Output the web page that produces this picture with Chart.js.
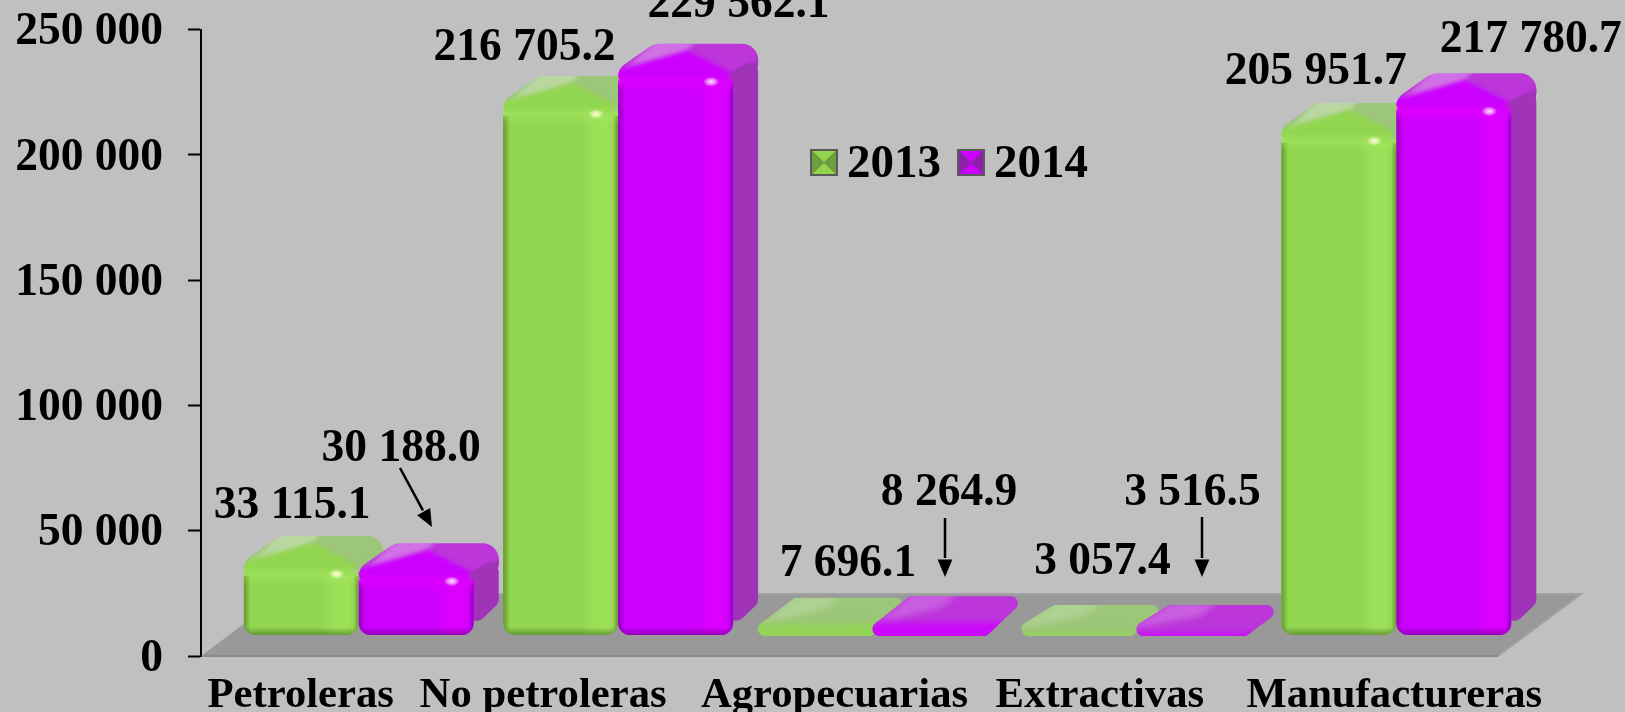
<!DOCTYPE html>
<html>
<head>
<meta charset="utf-8">
<title>Exportaciones</title>
<script src="https://cdn.jsdelivr.net/npm/chart.js@4/dist/chart.umd.js"></script>
<style>
    html, body { margin: 0; padding: 0; background: #c0c0c0; overflow: hidden; }
    #wrap { width: 1625px; height: 712px; }
</style>
</head>
<body>
<div id="wrap"><canvas id="exportChart"></canvas></div>
<script>
const categories = ['Petroleras', 'No petroleras', 'Agropecuarias', 'Extractivas', 'Manufactureras'];
const years = ['2013', '2014'];
const values2013 = [33115.1, 216705.2, 7696.1, 3057.4, 205951.7];
const values2014 = [30188.0, 229562.1, 8264.9, 3516.5, 217780.7];
const yTicks = [0, 50000, 100000, 150000, 200000, 250000];

// Hand placed bits, the labels sit wherever they fit in the original
const labelShift = [-30, -47, -15, -9, 26];
const valueNudge = [
    [[-9, -55], [-36, -53], [28, -61], [23, -74], [-23, -56]],
    [[-15, -119], [63, -64], [14, -130], [-2, -142], [77, -58]]
];

const FONT = '"Liberation Serif", "Times New Roman", serif';
const palette = [
    {
        front: '#92d650', side: '#9cc47a', top: '#9cc678', swatchSide: '#6f9e3e', spot: '255,255,210',
        edge: 'rgba(70,110,30,0.6)', edgeOff: 'rgba(70,110,30,0)',
        shine: 'rgba(170,240,100,0.4)', shineOff: 'rgba(170,240,100,0)'
    },
    {
        front: '#cc00ff', side: '#a033b8', top: '#bc36da', swatchSide: '#8f1fab', spot: '255,225,255',
        edge: 'rgba(110,0,140,0.6)', edgeOff: 'rgba(110,0,140,0)',
        shine: 'rgba(225,0,255,0.7)', shineOff: 'rgba(225,0,255,0)'
    }
];

// Depth of the fake 3D box
const DEPTH_X = 28;
const BASE_Y = 635;
const FLOOR_DX = 83;
const FLOOR_DY = 62;

function spaced(value, decimals) {
    const parts = value.toFixed(decimals).split('.');
    parts[0] = parts[0].replace(/\B(?=(\d{3})+(?!\d))/g, ' ');
    return parts.join('.');
}

// Polygon with rounded corners
function roundedPoly(ctx, pts, r) {
    ctx.beginPath();
    const n = pts.length;
    ctx.moveTo((pts[n - 1][0] + pts[0][0]) / 2, (pts[n - 1][1] + pts[0][1]) / 2);
    pts.forEach((p, i) => {
        const next = pts[(i + 1) % n];
        ctx.arcTo(p[0], p[1], next[0], next[1], r);
    });
    ctx.closePath();
}

function fillPoly(ctx, pts, fill) {
    ctx.fillStyle = fill;
    ctx.beginPath();
    pts.forEach((p, i) => (i ? ctx.lineTo(p[0], p[1]) : ctx.moveTo(p[0], p[1])));
    ctx.closePath();
    ctx.fill();
}

function drawArrow(ctx, x1, y1, x2, y2) {
    const angle = Math.atan2(y2 - y1, x2 - x1);
    const head = 19;
    ctx.strokeStyle = '#000';
    ctx.lineWidth = 2.5;
    ctx.beginPath();
    ctx.moveTo(x1, y1);
    ctx.lineTo(x2 - Math.cos(angle) * head, y2 - Math.sin(angle) * head);
    ctx.stroke();
    fillPoly(ctx, [
        [x2, y2],
        [x2 - Math.cos(angle - 0.4) * head, y2 - Math.sin(angle - 0.4) * head],
        [x2 - Math.cos(angle + 0.4) * head, y2 - Math.sin(angle + 0.4) * head]
    ], '#000');
}

function drawSwatch(ctx, x, y, w, h, col) {
    ctx.fillStyle = '#5a5a5a';
    ctx.fillRect(x, y, w, h);
    const ix = x + 2, iy = y + 2, iw = w - 4, ih = h - 4;
    const c = [ix + iw / 2, iy + ih / 2];
    fillPoly(ctx, [[ix, iy], [ix + iw, iy], c], col.front);
    fillPoly(ctx, [[ix, iy + ih], [ix + iw, iy + ih], c], col.front);
    fillPoly(ctx, [[ix, iy], [ix, iy + ih], c], col.swatchSide);
    fillPoly(ctx, [[ix + iw, iy], [ix + iw, iy + ih], c], col.swatchSide);
}

// Side and top faces of a tall bar, front face comes from the library
function drawTallBack(ctx, el, col) {
    const L = el.x - el.width / 2;
    const R = el.x + el.width / 2;
    const W = el.width;
    const F = el.y;
    const B = el.$backY;

    ctx.save();
    roundedPoly(ctx, [[L, F + 8], [L, F - 12], [L + 36, B], [R + 25, B], [R + 25, F - 8], [R, F + 6]], 16);
    ctx.fillStyle = col.top;
    ctx.fill();
    ctx.clip();
    ctx.filter = 'blur(2px)';
    // pale facet on the left
    fillPoly(ctx, [[L - 4, F], [L + 38, B - 4], [L + W * 0.68, B - 4], [L + W * 0.6, B + 7]], 'rgba(255,255,255,0.3)');
    // darker side face
    fillPoly(ctx, [[R, F - 7], [R + 30, F - 24], [R + 30, F + 20], [R, F + 20]], col.side);
    // front colour runs up to a soft peak
    fillPoly(ctx, [[L - 5, F + 10], [L - 5, F - 10], [L + W * 0.6, B + 7], [R, F - 7], [R + 1, F + 10]], col.front);
    ctx.restore();

    ctx.fillStyle = col.side;
    roundedPoly(ctx, [[R - 6, BASE_Y - 2], [R + 25, BASE_Y - 32], [R + 25, F - 24], [R - 6, F - 6]], 9);
    ctx.fill();
}

function drawFlatBar(ctx, el, col) {
    const L = el.x - el.width / 2;
    const R = el.x + el.width / 2;
    const W = el.width;
    const B = el.$backY;
    const low = BASE_Y + 1;
    const band = Math.max(3, (605 - B) * 1.2 + 3);

    ctx.save();
    roundedPoly(ctx, [[L - 18, low], [L + 32, B], [R + 36, B], [R - 6, low]], 7);
    ctx.fillStyle = col.top;
    ctx.fill();
    ctx.clip();
    ctx.filter = 'blur(3px)';
    fillPoly(ctx, [[L - 8, low - 6], [L + 36, B - 3], [L + W * 0.7, B - 3], [L + W * 0.55, B + 12]], 'rgba(255,255,255,0.2)');
    ctx.globalAlpha = 0.7;
    fillPoly(ctx, [[L - 8, low + 2], [L - 8, low - band], [L + W * 0.55, B + 14], [R + 10, low - band], [R + 10, low + 2]], col.top);
    ctx.globalAlpha = 0.85;
    fillPoly(ctx, [[L - 22, low + 6], [L - 22, low - band], [R + 14, low - band], [R + 14, low + 6]], col.front);
    ctx.restore();
}

function drawBarShine(ctx, el, col) {
    const L = el.x - el.width / 2;
    const R = el.x + el.width / 2;
    const T = el.y;
    const H = el.base - el.y;
    ctx.save();
    ctx.beginPath();
    ctx.roundRect(L, T - 6, el.width, H + 6, [0, 0, 12, 12]);
    ctx.clip();

    const left = ctx.createLinearGradient(L, 0, L + 7, 0);
    left.addColorStop(0, col.edge);
    left.addColorStop(1, col.edgeOff);
    ctx.fillStyle = left;
    ctx.fillRect(L, T + 3, 7, H);

    const band = ctx.createLinearGradient(L + el.width * 0.68, 0, L + el.width * 0.97, 0);
    band.addColorStop(0, col.shineOff);
    band.addColorStop(0.4, col.shine);
    band.addColorStop(0.8, col.shine);
    band.addColorStop(1, col.shineOff);
    ctx.fillStyle = band;
    ctx.fillRect(L + el.width * 0.68, T + 3, el.width * 0.29, H);

    const right = ctx.createLinearGradient(R - 5, 0, R, 0);
    right.addColorStop(0, col.edgeOff);
    right.addColorStop(1, col.edge);
    ctx.fillStyle = right;
    ctx.fillRect(R - 5, T + 3, 5, H);

    const down = ctx.createLinearGradient(0, el.base - 8, 0, el.base);
    down.addColorStop(0, col.edgeOff);
    down.addColorStop(1, col.edge);
    ctx.fillStyle = down;
    ctx.fillRect(L, el.base - 8, el.width, 8);

    // lit shoulder where the front bends into the top
    const up = ctx.createLinearGradient(0, T - 8, 0, T + 12);
    up.addColorStop(0, col.shineOff);
    up.addColorStop(0.45, col.shine);
    up.addColorStop(1, col.shineOff);
    ctx.fillStyle = up;
    ctx.fillRect(L, T - 8, el.width, 20);
    ctx.restore();

    ctx.save();
    ctx.translate(R - 22, T + 1);
    ctx.scale(1.6, 1);
    const spot = ctx.createRadialGradient(0, 0, 0, 0, 0, 5);
    spot.addColorStop(0, `rgba(${col.spot},1)`);
    spot.addColorStop(0.5, `rgba(${col.spot},0.6)`);
    spot.addColorStop(1, `rgba(${col.spot},0)`);
    ctx.fillStyle = spot;
    ctx.beginPath();
    ctx.arc(0, 0, 5, 0, Math.PI * 2);
    ctx.fill();
    ctx.restore();
}

const box3dPlugin = {
    id: 'box3d',
    // Move the library's bars back onto the floor of the box
    afterDatasetsUpdate(chart) {
        const yScale = chart.scales.y;
        [values2013, values2014].forEach((values, d) => {
            chart.getDatasetMeta(d).data.forEach((el, i) => {
                const valueY = yScale.getPixelForValue(values[i]);
                el.$flat = valueY > 620;
                el.$backY = el.$flat ? Math.min(valueY - 39, 605) : valueY - 37;
                el.x += DEPTH_X;
                el.base = BASE_Y;
                el.y = el.$flat ? BASE_Y : valueY;
                el.height = el.base - el.y;
            });
        });
    },
    // Bars are painted below, left to right, so the 2014 ones end up in front
    beforeDatasetDraw() {
        return false;
    },
    beforeDatasetsDraw(chart) {
        const { ctx, chartArea: a } = chart;
        ctx.save();
        fillPoly(ctx, [
            [a.left, a.bottom],
            [a.right, a.bottom],
            [a.right + FLOOR_DX, a.bottom - FLOOR_DY],
            [a.left + FLOOR_DX, a.bottom - FLOOR_DY]
        ], '#999999');
        ctx.strokeStyle = '#a2a2a2';
        ctx.lineWidth = 2;
        ctx.beginPath();
        ctx.moveTo(a.left + FLOOR_DX, a.bottom - FLOOR_DY);
        ctx.lineTo(a.right + FLOOR_DX, a.bottom - FLOOR_DY);
        ctx.lineTo(a.right, a.bottom);
        ctx.stroke();
        ctx.strokeStyle = '#8a8a8a';
        ctx.beginPath();
        ctx.moveTo(a.left + 2, a.bottom);
        ctx.lineTo(a.right, a.bottom);
        ctx.stroke();
        ctx.restore();
    },
    afterDatasetsDraw(chart) {
        const { ctx } = chart;
        const yScale = chart.scales.y;

        categories.forEach((c, i) => {
            [0, 1].forEach(d => {
                const el = chart.getDatasetMeta(d).data[i];
                if (el.$flat) {
                    drawFlatBar(ctx, el, palette[d]);
                } else {
                    drawTallBack(ctx, el, palette[d]);
                    el.draw(ctx);
                    drawBarShine(ctx, el, palette[d]);
                }
            });
        });

        // value labels
        ctx.save();
        ctx.font = 'bold 45.5px ' + FONT;
        ctx.fillStyle = '#000';
        ctx.textAlign = 'center';
        ctx.textBaseline = 'alphabetic';
        [values2013, values2014].forEach((values, d) => {
            values.forEach((v, i) => {
                const el = chart.getDatasetMeta(d).data[i];
                ctx.fillText(spaced(v, 1), el.x + valueNudge[d][i][0], yScale.getPixelForValue(v) + valueNudge[d][i][1]);
            });
        });
        ctx.restore();

        // arrows from the labels that had to move away from their bar
        drawArrow(ctx, 400, 468, 432, 527);
        drawArrow(ctx, 945, 518, 945, 577);
        drawArrow(ctx, 1202, 517, 1202, 577);

        // legend
        ctx.save();
        ctx.font = 'bold 47px ' + FONT;
        ctx.textAlign = 'left';
        ctx.textBaseline = 'alphabetic';
        drawSwatch(ctx, 810, 149, 28, 27, palette[0]);
        ctx.fillStyle = '#000';
        ctx.fillText(years[0], 847, 177);
        drawSwatch(ctx, 957, 149, 28, 27, palette[1]);
        ctx.fillStyle = '#000';
        ctx.fillText(years[1], 994, 177);
        ctx.restore();
    }
};

new Chart(document.getElementById('exportChart'), {
    type: 'bar',
    data: {
        labels: categories,
        datasets: [
            { label: years[0], data: values2013, backgroundColor: palette[0].front },
            { label: years[1], data: values2014, backgroundColor: palette[1].front }
        ]
    },
    options: {
        responsive: true,
        maintainAspectRatio: false,
        animation: false,
        layout: {
            padding: { top: 29.5, right: 127, bottom: 0, left: 0 }
        },
        datasets: {
            bar: {
                categoryPercentage: 0.887,
                barPercentage: 1,
                borderRadius: { topLeft: 0, topRight: 0, bottomLeft: 12, bottomRight: 12 },
                borderSkipped: false,
                borderWidth: 0
            }
        },
        plugins: {
            legend: { display: false },
            tooltip: { enabled: false }
        },
        scales: {
            x: {
                grid: { display: false, drawTicks: false },
                border: { display: false },
                ticks: {
                    autoSkip: false,
                    maxRotation: 0,
                    minRotation: 0,
                    padding: 14,
                    color: '#000',
                    font: { family: FONT, size: 42.7, weight: 'bold' }
                },
                afterFit(scale) {
                    scale.height = 56;
                    scale.paddingLeft = 0;
                    scale.paddingRight = 0;
                }
            },
            y: {
                min: 0,
                max: 250000,
                afterBuildTicks(scale) {
                    scale.ticks = yTicks.map(value => ({ value }));
                },
                grid: {
                    drawOnChartArea: false,
                    drawTicks: true,
                    tickLength: 13,
                    tickColor: '#000',
                    tickWidth: 2
                },
                border: { color: '#000', width: 2 },
                ticks: {
                    padding: 25,
                    labelOffset: 3,
                    color: '#000',
                    font: { family: FONT, size: 45.5, weight: 'bold' },
                    callback: value => spaced(value, 0)
                },
                afterFit(scale) {
                    scale.width = 201;
                    scale.paddingTop = 0;
                    scale.paddingBottom = 0;
                }
            }
        }
    },
    plugins: [box3dPlugin, {
        // Category labels do not sit under their bars in the original
        id: 'labelShift',
        beforeDraw(chart) {
            const xScale = chart.scales.x;
            xScale.getLabelItems(chart.chartArea).forEach((item, i) => {
                if (!item.$moved) {
                    item.options.translation[0] += labelShift[i];
                    item.$moved = true;
                }
            });
        }
    }]
});
</script>
</body>
</html>
